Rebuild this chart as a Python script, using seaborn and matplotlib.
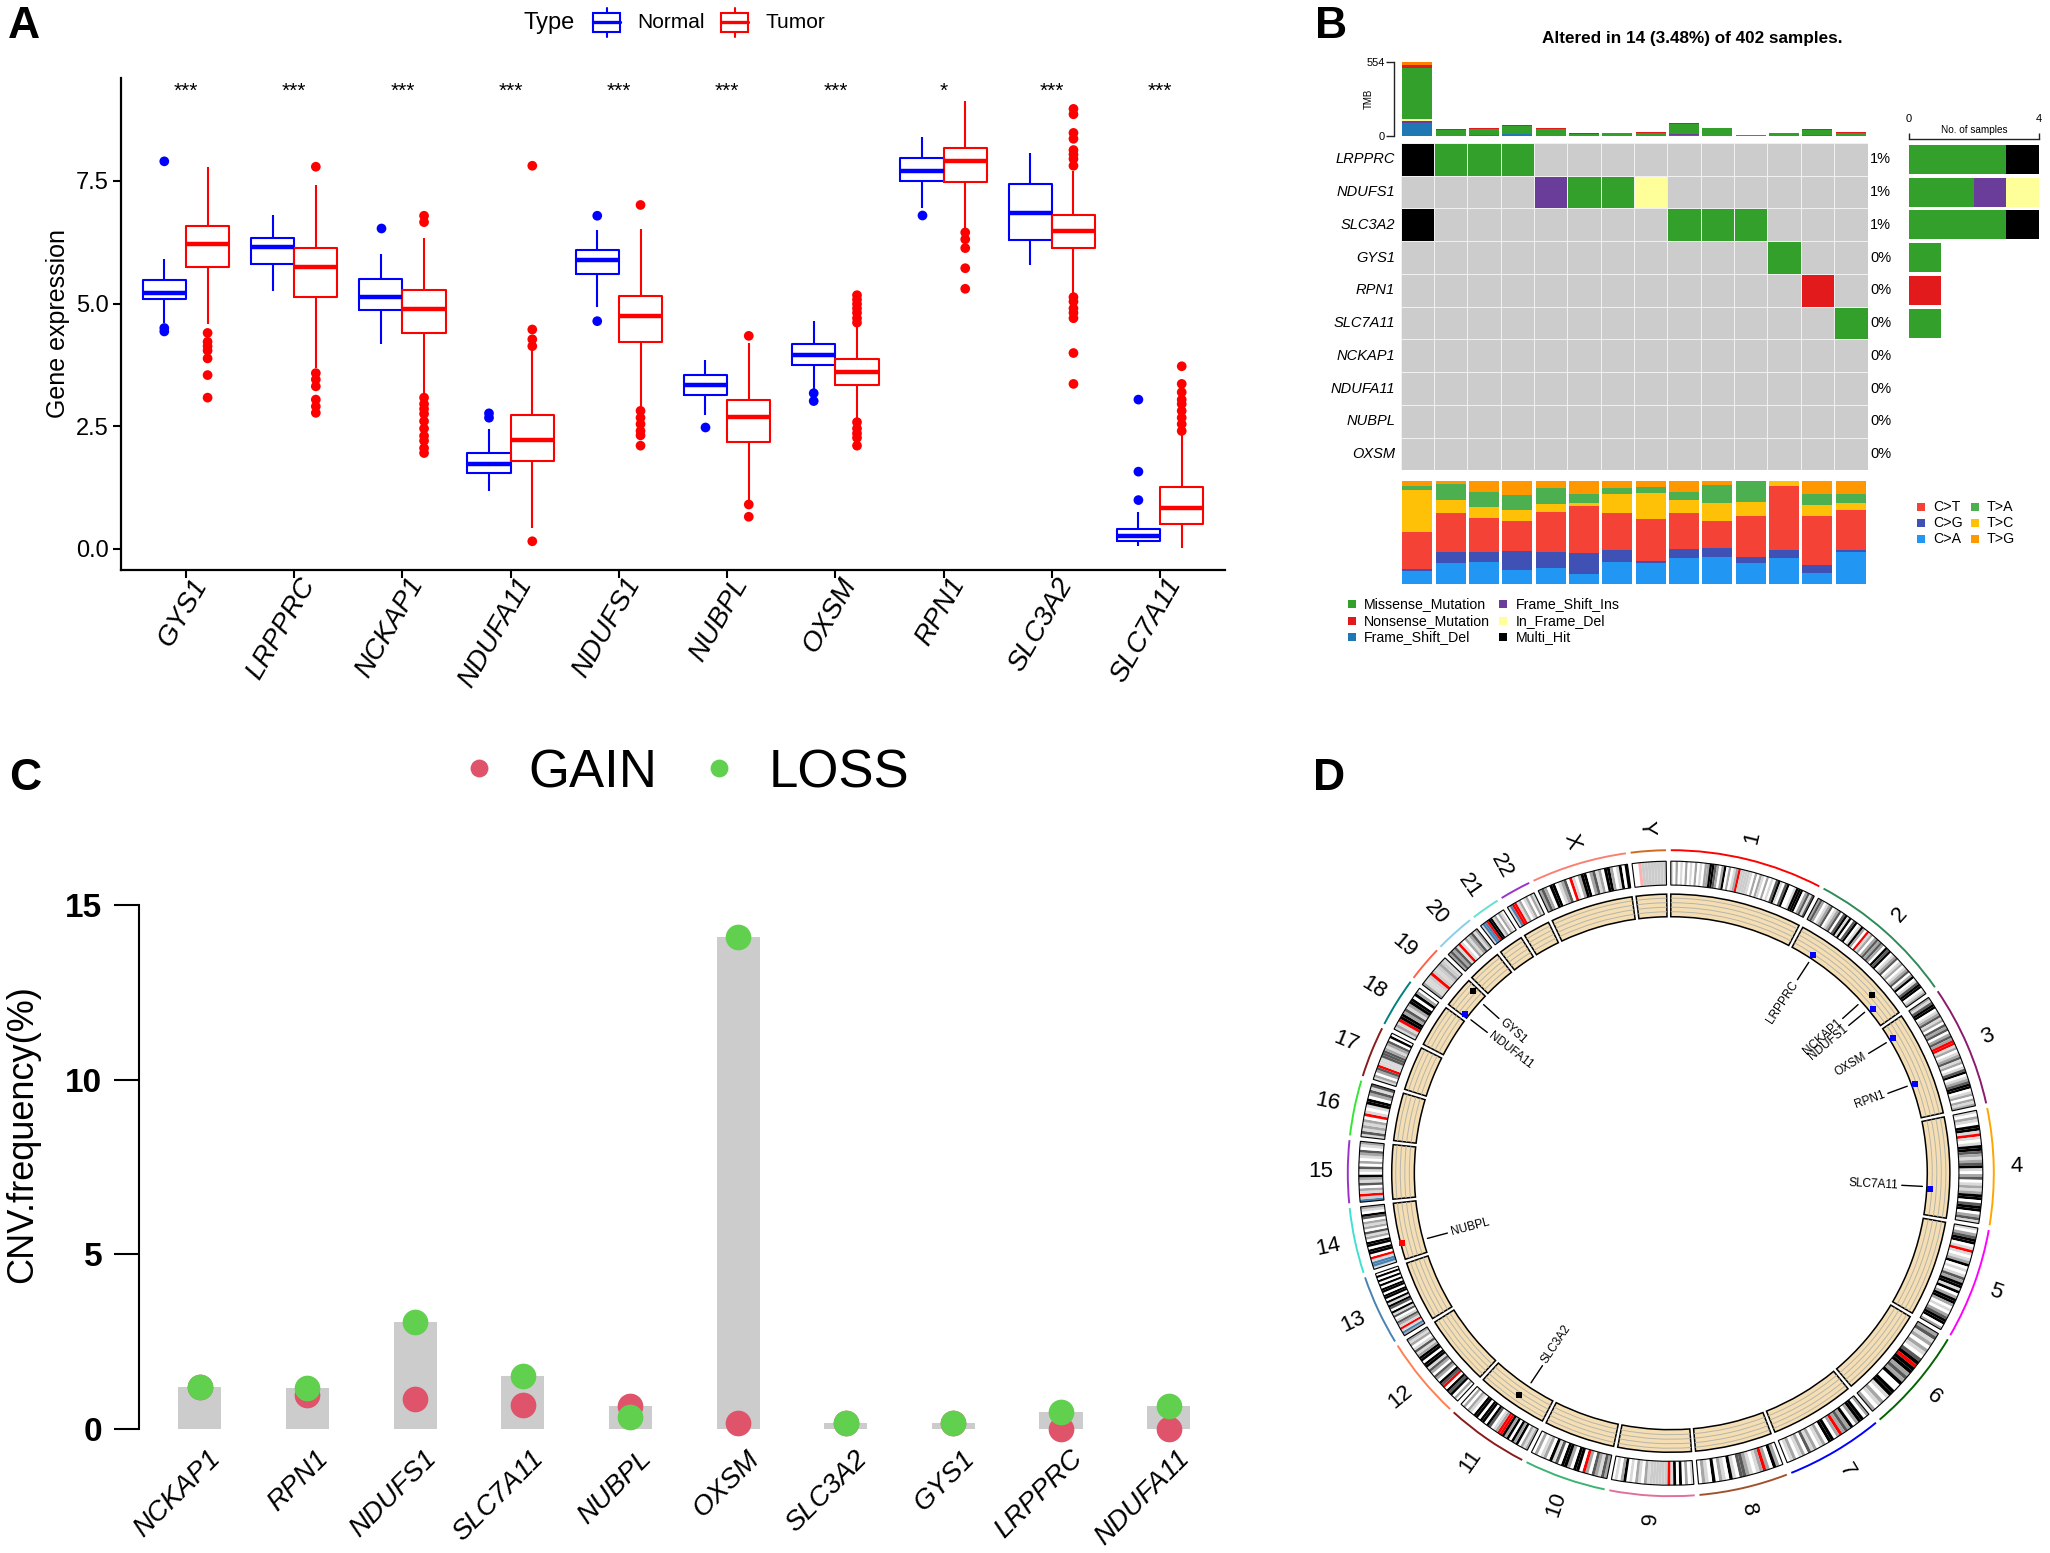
import numpy as np
import pandas as pd
import matplotlib
matplotlib.use('Agg')
import matplotlib.pyplot as plt
from matplotlib.colors import ListedColormap
from matplotlib.patches import Rectangle
from matplotlib.transforms import ScaledTranslation
import seaborn as sns

W, H = 2050, 1553

# panel A: box stats per gene
box_genes = ['GYS1', 'LRPPRC', 'NCKAP1', 'NDUFA11', 'NDUFS1', 'NUBPL', 'OXSM', 'RPN1', 'SLC3A2', 'SLC7A11']
significance = ['***', '***', '***', '***', '***', '***', '***', '*', '***', '***']
normal_lo = [4.6, 5.25, 4.18, 1.17, 4.93, 2.72, 3.26, 6.95, 5.79, 0.05]
normal_q1 = [5.09, 5.8, 4.87, 1.54, 5.61, 3.13, 3.75, 7.5, 6.3, 0.15]
normal_med = [5.21, 6.16, 5.13, 1.72, 5.88, 3.33, 3.94, 7.71, 6.84, 0.26]
normal_q3 = [5.47, 6.33, 5.5, 1.95, 6.09, 3.55, 4.17, 7.96, 7.43, 0.4]
normal_hi = [5.9, 6.81, 6.01, 2.43, 6.5, 3.85, 4.65, 8.39, 8.06, 0.74]
normal_out = [[7.9, 4.5, 4.43], [], [6.54], [2.76, 2.67], [6.79, 4.64], [2.49], [3.17, 3.01], [6.81], [], [3.04, 1.57, 0.99]]
tumor_lo = [4.59, 3.68, 3.13, 0.43, 2.85, 0.99, 2.63, 6.5, 5.22, 0.01]
tumor_q1 = [5.74, 5.13, 4.4, 1.79, 4.21, 2.18, 3.33, 7.47, 6.13, 0.5]
tumor_med = [6.21, 5.75, 4.88, 2.22, 4.74, 2.68, 3.61, 7.9, 6.48, 0.82]
tumor_q3 = [6.59, 6.13, 5.27, 2.73, 5.16, 3.03, 3.86, 8.18, 6.8, 1.25]
tumor_hi = [7.79, 7.42, 6.33, 4.17, 6.52, 4.2, 4.58, 9.13, 7.7, 2.31]
tumor_out = [
    [4.4, 4.22, 4.13, 4.04, 3.88, 3.54, 3.08],
    [7.79, 3.58, 3.45, 3.31, 3.04, 2.9, 2.77],
    [6.79, 6.66, 3.08, 2.95, 2.85, 2.75, 2.6, 2.45, 2.3, 2.2, 2.05, 1.95],
    [7.81, 4.47, 4.27, 4.13, 0.15],
    [7.01, 2.81, 2.67, 2.54, 2.4, 2.31, 2.1],
    [4.34, 0.9, 0.65],
    [5.17, 5.08, 4.99, 4.9, 4.81, 4.7, 4.61, 2.58, 2.45, 2.35, 2.26, 2.1],
    [6.45, 6.31, 6.13, 5.72, 5.3],
    [8.97, 8.86, 8.48, 8.36, 8.13, 8.04, 7.95, 7.81, 5.13, 5.04, 4.9, 4.81, 4.7, 3.99, 3.36],
    [3.72, 3.36, 3.19, 3.04, 2.95, 2.81, 2.67, 2.54, 2.4],
]

# panel B: oncoplot
onco_genes = ['LRPPRC', 'NDUFS1', 'SLC3A2', 'GYS1', 'RPN1', 'SLC7A11', 'NCKAP1', 'NDUFA11', 'NUBPL', 'OXSM']
onco_pct = ['1%', '1%', '1%', '0%', '0%', '0%', '0%', '0%', '0%', '0%']
onco_rows = [
    [4, 1, 1, 1, 0, 0, 0, 0, 0, 0, 0, 0, 0, 0],
    [0, 0, 0, 0, 2, 1, 1, 3, 0, 0, 0, 0, 0, 0],
    [4, 0, 0, 0, 0, 0, 0, 0, 1, 1, 1, 0, 0, 0],
    [0, 0, 0, 0, 0, 0, 0, 0, 0, 0, 0, 1, 0, 0],
    [0, 0, 0, 0, 0, 0, 0, 0, 0, 0, 0, 0, 5, 0],
    [0, 0, 0, 0, 0, 0, 0, 0, 0, 0, 0, 0, 0, 1],
    [0] * 14, [0] * 14, [0] * 14, [0] * 14,
]
onco_colors = ['#CCCCCC', '#33A02C', '#6A3D9A', '#FFFF99', '#000000', '#E31A1C']
tmb_del = [98, 0, 6, 12, 3, 0, 0, 0, 6, 3, 0, 3, 6, 0]
tmb_ins = [15, 0, 0, 0, 0, 0, 0, 0, 6, 0, 0, 0, 0, 0]
tmb_inframe = [12, 0, 0, 0, 0, 0, 0, 0, 0, 0, 0, 0, 0, 0]
tmb_missense = [380, 47, 50, 62, 50, 17, 22, 25, 76, 57, 5, 17, 38, 25]
tmb_nonsense = [27, 6, 6, 6, 6, 5, 3, 3, 6, 3, 4, 5, 6, 3]
tmb_other = [22, 0, 0, 0, 0, 0, 0, 0, 0, 0, 0, 0, 0, 0]
side_missense = [3, 2, 3, 1, 0, 1, 0, 0, 0, 0]
side_nonsense = [0, 0, 0, 0, 1, 0, 0, 0, 0, 0]
side_ins = [0, 1, 0, 0, 0, 0, 0, 0, 0, 0]
side_inframe = [0, 1, 0, 0, 0, 0, 0, 0, 0, 0]
side_multi = [1, 0, 1, 0, 0, 0, 0, 0, 0, 0]
# cumulative tops of the substitution stack, columns left to right
ti_ca = [.122, .204, .212, .135, .151, .094, .212, .204, .253, .261, .2, .249, .106, .306]
ti_cg = [.147, .314, .314, .318, .314, .302, .331, .224, .343, .351, .265, .331, .188, .331]
ti_ct = [.506, .686, .641, .608, .698, .759, .694, .629, .69, .608, .665, .955, .657, .714]
ti_tc = [.914, .812, .743, .718, .78, .788, .878, .886, .82, .788, .796, 1.0, .771, .788]
ti_ta = [.951, .967, .894, .865, .931, .878, .935, .943, .894, .959, 1.0, 1.0, .878, .869]
ti_tg = [1.0] * 14
ti_colors = ['#2196F3', '#3F51B5', '#F44336', '#FFC107', '#4CAF50', '#FF9800']

# panel C: CNV frequency
cnv_genes = ['NCKAP1', 'RPN1', 'NDUFS1', 'SLC7A11', 'NUBPL', 'OXSM', 'SLC3A2', 'GYS1', 'LRPPRC', 'NDUFA11']
cnv_gain = [1.19, 0.96, 0.85, 0.68, 0.67, 0.18, 0.17, 0.17, 0.0, 0.0]
cnv_loss = [1.19, 1.17, 3.06, 1.51, 0.33, 14.08, 0.18, 0.18, 0.5, 0.67]

# panel D: chromosomes
chrom_names = ['1', '2', '3', '4', '5', '6', '7', '8', '9', '10', '11', '12', '13', '14', '15', '16', '17', '18', '19', '20', '21', '22', 'X', 'Y']
chrom_mb = [248.9, 242.2, 198.3, 190.2, 181.5, 170.8, 159.3, 145.1, 138.4, 133.8, 135.1, 133.3, 114.4, 107.0, 102.0, 90.3, 83.3, 80.4, 58.6, 64.4, 46.7, 50.8, 156.0, 57.2]
chrom_colors = ['#FF0000', '#2E8B57', '#8B1A6B', '#FFA500', '#FF00FF', '#006400', '#0000FF', '#A0522D', '#E0709A', '#3CB371', '#8B1A1A', '#FF7F50', '#4682B4', '#40E0D0', '#9932CC', '#32E632', '#8B1A1A', '#008080', '#FF6347', '#87CEEB', '#66E0D0', '#9932CC', '#FA8072', '#D2691E']
# one character per band, 0-4 white to black, g pale grey, r centromere, b stalk, p pink
chrom_bands = [
    '1020102010201022443202402012rgggg1020210201034103400144402313',
    '232012301230341403401420r1202323204340123012012302401344012',
    '2134401231203230232rr1201231201340123440120212',
    '10210441r101443212341023012124403440231',
    '10234401r10124010132441402442010234402',
    '2312021034r4423240044102102',
    '2044204232r204402102130210210',
    '02402r2101233014012040120',
    '10204041rgggggg1201201042010',
    '2312302r04402440314021020',
    '21204240424rr21034044044012020',
    '0204340r3402302314404421310212',
    '2b1r12310314034140440440404040',
    '1bb1r04404402130212034012',
    'bgr1203124013020123012',
    '1312120r1014402313',
    '12023r1113332123040',
    '121r442312440420',
    '211grg1g2g1',
    '23231r10212312',
    '1bbr44120210',
    '1brr12012021',
    '23204401230r1024402312044201404',
    '00pgggggggg',
]
band_colors = {'0': '#FFFFFF', '1': '#D9D9D9', '2': '#A6A6A6', '3': '#595959', '4': '#000000',
               'g': '#CCCCCC', 'r': '#FF0000', 'b': '#4682B4', 'p': '#FFB0B0'}
circ_genes = ['LRPPRC', 'NCKAP1', 'NDUFS1', 'OXSM', 'RPN1', 'SLC7A11', 'SLC3A2', 'NUBPL', 'GYS1', 'NDUFA11']
circ_chrom = ['2', '2', '2', '3', '3', '4', '11', '14', '19', '19']
circ_mb = [43.9, 183.0, 206.1, 25.8, 128.6, 138.2, 62.8, 31.5, 48.9, 5.9]
circ_lane = [.805, .832, .806, .805, .805, .805, .832, .86, .832, .805]
circ_color = ['#0000FF', '#000000', '#0000FF', '#0000FF', '#0000FF', '#0000FF', '#000000', '#FF0000', '#000000', '#0000FF']
circ_label_deg = [33.2, 48.0, 50.3, 58.8, 69.8, 93.0, 213.7, 255.0, 312.0, 307.5]

sns.set_theme(style='ticks')
plt.rcParams['font.family'] = ['Liberation Sans', 'DejaVu Sans']
plt.rcParams['axes.unicode_minus'] = False
plt.rcParams['text.color'] = 'black'
plt.rcParams['axes.labelcolor'] = 'black'
plt.rcParams['xtick.color'] = 'black'
plt.rcParams['ytick.color'] = 'black'
fig = plt.figure(figsize=(W / 100, H / 100), dpi=100, facecolor='white')


def px_axes(x0, y0, x1, y1, **kw):
    return fig.add_axes([x0 / W, 1 - y1 / H, (x1 - x0) / W, (y1 - y0) / H], **kw)


def nudge_labels(labels, dx_px):
    # slide rotated tick labels sideways, in picture pixels
    for lab in labels:
        lab.set_transform(lab.get_transform() + ScaledTranslation(dx_px / 100, 0, fig.dpi_scale_trans))


# ---- panel A ----
rows, out_rows = [], []
for i, g in enumerate(box_genes):
    for t, vals, outs in [('Normal', [normal_lo, normal_q1, normal_med, normal_q3, normal_hi], normal_out),
                          ('Tumor', [tumor_lo, tumor_q1, tumor_med, tumor_q3, tumor_hi], tumor_out)]:
        rows += [{'gene': g, 'Type': t, 'value': v[i]} for v in vals]
        out_rows += [{'gene': g, 'Type': t, 'value': v} for v in outs[i]]
box_df = pd.DataFrame(rows)
out_df = pd.DataFrame(out_rows)
box_pal = {'Normal': '#0000FF', 'Tumor': '#FF0000'}

axA = px_axes(121, 78, 1225, 570)
sns.boxplot(data=box_df, x='gene', y='value', hue='Type', order=box_genes, hue_order=['Normal', 'Tumor'],
            palette=box_pal, fill=False, whis=(0, 100), width=.8, gap=0, linewidth=1.5, showcaps=False,
            medianprops={'linewidth': 3.2}, legend=False, ax=axA)
sns.stripplot(data=out_df, x='gene', y='value', hue='Type', order=box_genes, hue_order=['Normal', 'Tumor'],
              palette=box_pal, dodge=True, jitter=False, size=7, legend=False, ax=axA)
axA.set_xlim(-.6, 9.6)
axA.set_ylim(-.436, 9.6)
axA.set_yticks([0, 2.5, 5, 7.5], ['0.0', '2.5', '5.0', '7.5'])
axA.tick_params(axis='y', labelsize=17, length=6, width=1.5, pad=3, color='black')
axA.tick_params(axis='x', length=6, width=1.5, pad=-3.5)
axA.set_xticks(range(10))
axA.set_xticklabels(box_genes, rotation=60, ha='right', va='top', rotation_mode='anchor', style='italic', fontsize=20)
nudge_labels(axA.get_xticklabels(), 4)
axA.set_xlabel('')
axA.set_ylabel('Gene expression', fontsize=18, labelpad=4)
sns.despine(ax=axA)
for s in ['left', 'bottom']:
    axA.spines[s].set_linewidth(1.6)
    axA.spines[s].set_color('black')
for i, star in enumerate(significance):
    axA.text(i, 9.32, star, ha='center', va='center', fontsize=15)

# ---- panel B ----
axTmb = px_axes(1400.5, 61.9, 1867.5, 136)
tmb_layers = [(tmb_del, '#1F78B4'), (tmb_ins, '#6A3D9A'), (tmb_inframe, '#FFFF99'),
              (tmb_missense, '#33A02C'), (tmb_nonsense, '#E31A1C'), (tmb_other, '#FF7F00')]
tmb_cum = np.cumsum([l[0] for l in tmb_layers], axis=0)
for tops, (_, col) in zip(tmb_cum[::-1], tmb_layers[::-1]):
    sns.barplot(x=np.arange(14), y=tops, color=col, saturation=1, width=.9, linewidth=0, ax=axTmb)
axTmb.set_xlim(-.5, 13.5)
axTmb.set_ylim(0, 554)
axTmb.set_xticks([])
axTmb.set_yticks([0, 554], ['0', '554'])
axTmb.tick_params(axis='y', labelsize=8, length=5.5, width=1, pad=1, color='#222222')
sns.despine(ax=axTmb, bottom=True)
axTmb.spines['left'].set_position(('outward', 4.5))
axTmb.spines['left'].set_color('#222222')
axTmb.spines['left'].set_linewidth(1)
axTmb.set_ylabel('TMB', fontsize=7, labelpad=-5)

axOnco = px_axes(1400.5, 143, 1867.5, 470.5)
sns.heatmap(np.array(onco_rows), cmap=ListedColormap(onco_colors), vmin=-.5, vmax=5.5, cbar=False,
            linewidths=.7, linecolor='#F0F0F0', xticklabels=False, yticklabels=onco_genes, ax=axOnco)
axOnco.tick_params(axis='y', length=0, pad=4, labelsize=10.5, rotation=0)
for lab in axOnco.get_yticklabels():
    lab.set_style('italic')
for i, p in enumerate(onco_pct):
    axOnco.text(14.08, i + .5, p, ha='left', va='center', fontsize=10.5)

axSide = px_axes(1908.6, 143, 2039, 470.5)
side_layers = [(side_missense, '#33A02C'), (side_nonsense, '#E31A1C'), (side_ins, '#6A3D9A'),
               (side_inframe, '#FFFF99'), (side_multi, '#000000')]
side_cum = np.cumsum([l[0] for l in side_layers], axis=0)
for tops, (_, col) in zip(side_cum[::-1], side_layers[::-1]):
    sns.barplot(x=tops, y=onco_genes, order=onco_genes, orient='y', color=col, saturation=1, width=.88, linewidth=0, ax=axSide)
axSide.set_xlim(0, 4)
axSide.set_ylim(9.5, -.5)
axSide.set_yticks([])
axSide.set_ylabel('')
axSide.set_xlabel('')
axSide.xaxis.tick_top()
axSide.set_xticks([0, 4], ['0', '4'])
axSide.tick_params(axis='x', labelsize=8, length=4.5, width=1, pad=6.5, color='#222222', direction='out')
sns.despine(ax=axSide, left=True, bottom=True, top=False)
axSide.spines['top'].set_position(('outward', 3))
axSide.spines['top'].set_linewidth(1)
axSide.spines['top'].set_color('#222222')

axTi = px_axes(1400.5, 481, 1867.5, 584)
ti_layers = [ti_ca, ti_cg, ti_ct, ti_tc, ti_ta, ti_tg]
for tops, col in zip(ti_layers[::-1], ti_colors[::-1]):
    sns.barplot(x=np.arange(14), y=tops, color=col, saturation=1, width=.9, linewidth=0, ax=axTi)
axTi.set_xlim(-.5, 13.5)
axTi.set_ylim(0, 1)
axTi.axis('off')

# ---- panel C ----
axC = px_axes(138.5, 905, 1230, 1429)
sns.barplot(x=cnv_genes, y=np.maximum(cnv_gain, cnv_loss), order=cnv_genes, color='#CCCCCC', saturation=1, width=.4, linewidth=0, ax=axC)
sns.stripplot(x=cnv_genes, y=cnv_gain, order=cnv_genes, color='#DF536B', jitter=False, size=18.5, clip_on=False, ax=axC)
sns.stripplot(x=cnv_genes, y=cnv_loss, order=cnv_genes, color='#61D04F', jitter=False, size=18.5, clip_on=False, ax=axC)
axC.set_xlim(-.57, 9.57)
axC.set_ylim(0, 15)
axC.set_yticks([0, 5, 10, 15], ['0', '5', '10', '15'])
axC.tick_params(axis='y', length=18, width=1.5, pad=8, color='black')
for lab in axC.get_yticklabels():
    lab.set_fontsize(24)
    lab.set_fontweight('bold')
axC.set_xticks(range(10))
axC.set_xticklabels(cnv_genes, rotation=45, ha='right', va='top', rotation_mode='anchor', style='italic', fontsize=20)
axC.tick_params(axis='x', length=0, pad=12)
nudge_labels(axC.get_xticklabels(), 8)
axC.set_ylabel('')
sns.despine(ax=axC, bottom=True)
axC.spines['left'].set_linewidth(1.5)
axC.spines['left'].set_color('black')

# ---- panel D ----
cx, cy, rad = 1670.8, 1173.2, 323
axD = px_axes(cx - rad, cy - rad, cx + rad, cy + rad, projection='polar')
axD.set_theta_zero_location('N')
axD.set_theta_direction(-1)
axD.set_ylim(0, 1)
axD.set_axis_off()
gap_deg = .85
deg_per_mb = (360 - 24 * gap_deg) / sum(chrom_mb)
starts = {}
pos = 0.
for name, mb, col, bands in zip(chrom_names, chrom_mb, chrom_colors, chrom_bands):
    starts[name] = pos
    t0, span = np.radians(pos), np.radians(mb * deg_per_mb)
    axD.bar(t0, .006, width=span, bottom=.997, align='edge', color=col, linewidth=0, clip_on=False)
    # ideogram
    bw = span / len(bands)
    for k, ch in enumerate(bands):
        axD.bar(t0 + k * bw, .074, width=bw, bottom=.892, align='edge', color=band_colors[ch], linewidth=0)
    axD.bar(t0, .074, width=span, bottom=.892, align='edge', fill=False, edgecolor='black', linewidth=.8)
    # data track
    axD.bar(t0, .07, width=span, bottom=.794, align='edge', color='#F5DEB3', edgecolor='black', linewidth=1.1, zorder=2)
    for lane in [.808, .822, .836, .85]:
        axD.bar(t0, .003, width=span, bottom=lane, align='edge', color='#B5B5AA', linewidth=0, zorder=3)
    # name
    mid = pos + mb * deg_per_mb / 2
    ang = 90 - mid
    rot = ang if np.cos(np.radians(ang)) >= 0 else ang + 180
    axD.text(np.radians(mid), 1.07 + .015 * (len(name) - 1), name, rotation=rot, rotation_mode='anchor',
             ha='center', va='center', fontsize=16)
    pos += mb * deg_per_mb + gap_deg

for g, ch, mb, lane, col, deg in zip(circ_genes, circ_chrom, circ_mb, circ_lane, circ_color, circ_label_deg):
    th = np.radians(starts[ch] + mb * deg_per_mb)
    axD.scatter([th], [lane], marker='s', s=22, color=col, linewidths=0, zorder=5)
    tl = np.radians(deg)
    axD.plot([tl, tl], [.78, .716], color='black', lw=1)
    ang = 90 - deg
    right = np.cos(np.radians(ang)) >= 0
    axD.text(tl, .705, g, rotation=ang if right else ang + 180, rotation_mode='anchor',
             ha='right' if right else 'left', va='center', fontsize=8.5)

# ---- labels, legends and titles in picture pixels ----
ov = fig.add_axes([0, 0, 1, 1], facecolor='none')
ov.set_xlim(0, W)
ov.set_ylim(H, 0)
ov.axis('off')
for letter, x, y in [('A', 8, 27), ('B', 1315, 27), ('C', 9, 778), ('D', 1313, 778)]:
    ov.text(x, y, letter, fontsize=32, fontweight='bold', ha='left', va='center')

ov.text(523, 23, 'Type', fontsize=17, ha='left', va='center')
for x0, col, lab, tx in [(593, '#0000FF', 'Normal', 637), (721, '#FF0000', 'Tumor', 766)]:
    ov.add_patch(Rectangle((x0, 12.5), 27, 19.5, fill=False, edgecolor=col, lw=1.5))
    ov.plot([x0, x0 + 27], [22, 22], color=col, lw=2.4)
    ov.plot([x0 + 13.5, x0 + 13.5], [7.6, 12.5], color=col, lw=1.5)
    ov.plot([x0 + 13.5, x0 + 13.5], [32, 36.6], color=col, lw=1.5)
    ov.text(tx, 22, lab, fontsize=15, ha='left', va='center')

ov.text(1692, 39, 'Altered in 14 (3.48%) of 402 samples.', fontsize=12.3, fontweight='bold', ha='center', va='center')
ov.text(1974, 130, 'No. of samples', fontsize=7.2, ha='center', va='center')
for (mx, tx), items in [((1351.7, 1364), [('Missense_Mutation', '#33A02C'), ('Nonsense_Mutation', '#E31A1C'), ('Frame_Shift_Del', '#1F78B4')]),
                        ((1503, 1516), [('Frame_Shift_Ins', '#6A3D9A'), ('In_Frame_Del', '#FFFF99'), ('Multi_Hit', '#000000')])]:
    for k, (lab, col) in enumerate(items):
        y = 604.4 + k * 16.4
        ov.scatter([mx], [y], marker='s', s=26, color=col, linewidths=0)
        ov.text(tx, y, lab, fontsize=10.2, ha='left', va='center')
for (mx, tx), items in [((1921, 1933), [('C>T', '#F44336'), ('C>G', '#3F51B5'), ('C>A', '#2196F3')]),
                        ((1975, 1987), [('T>A', '#4CAF50'), ('T>C', '#FFC107'), ('T>G', '#FF9800')])]:
    for k, (lab, col) in enumerate(items):
        y = 506.7 + k * 16.2
        ov.scatter([mx], [y], marker='s', s=26, color=col, linewidths=0)
        ov.text(tx, y, lab, fontsize=10.2, ha='left', va='center')

for mx, tx, lab, col in [(479, 528, 'GAIN', '#DF536B'), (719, 769, 'LOSS', '#61D04F')]:
    ov.scatter([mx], [767.6], s=165, color=col, linewidths=0)
    ov.text(tx, 773, lab, fontsize=38, ha='left', va='center')
ov.text(23, 1134, 'CNV.frequency(%)', fontsize=26, rotation=90, ha='center', va='center')

fig.savefig('out.png', dpi=100, facecolor='white')
